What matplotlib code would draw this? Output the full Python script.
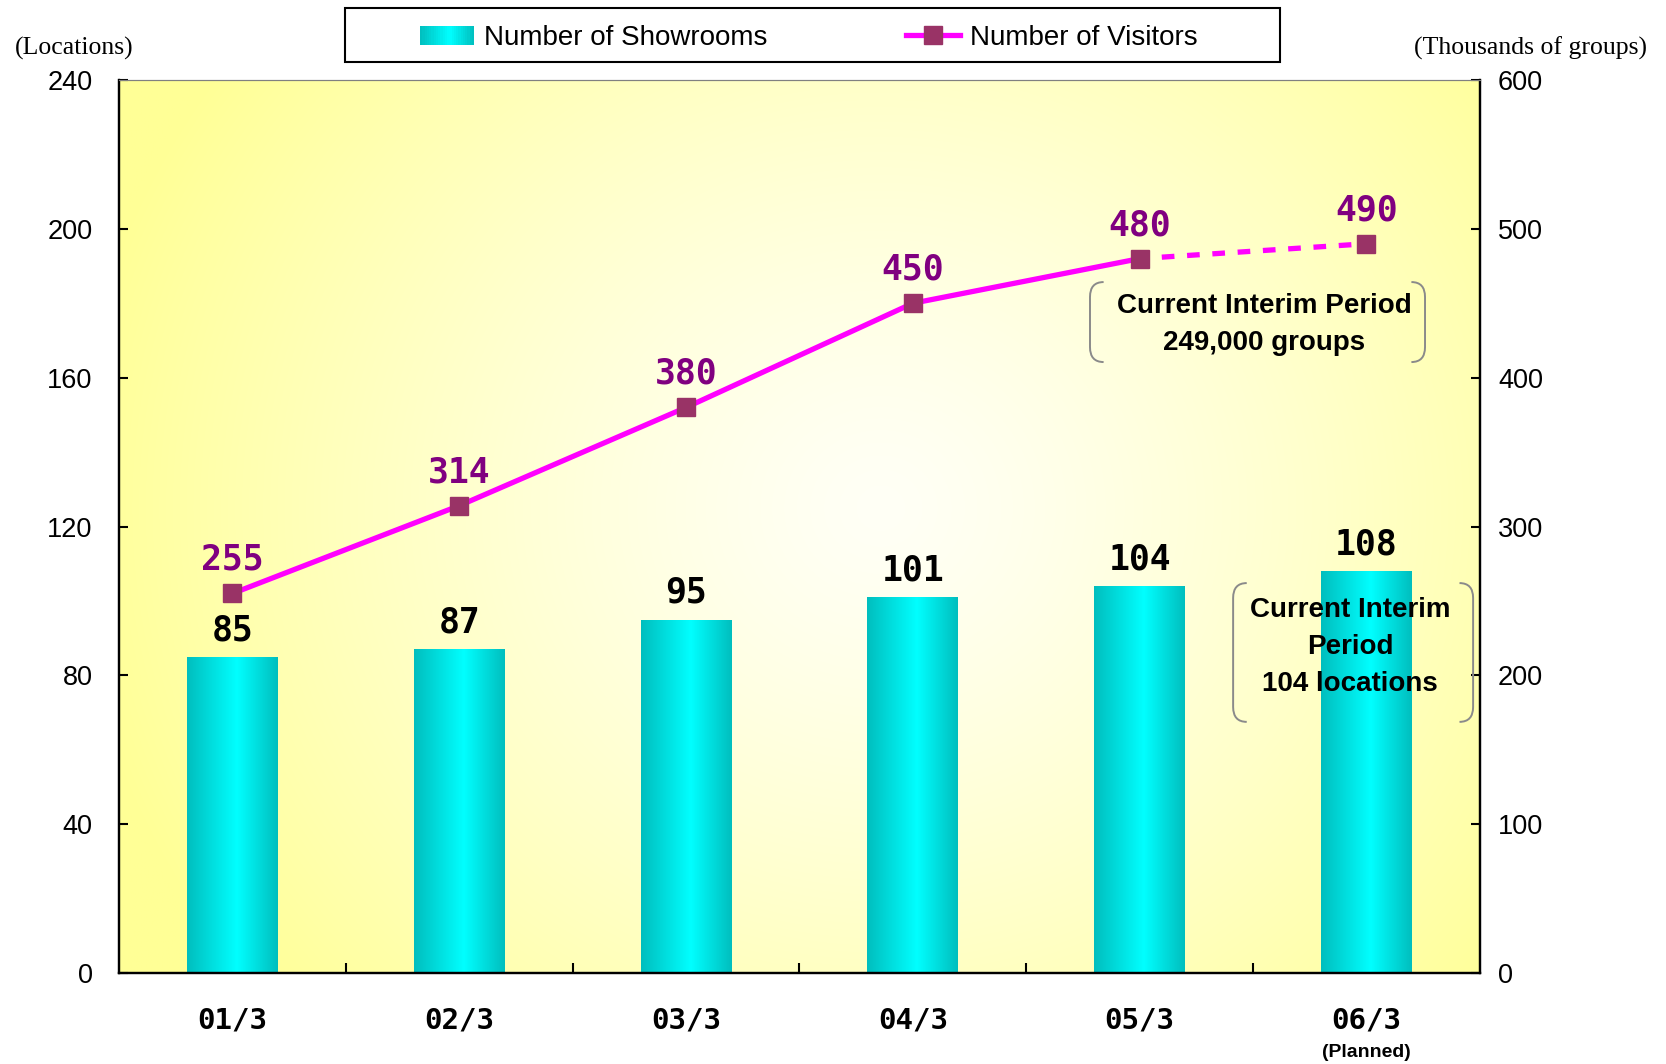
import numpy as np
import matplotlib
matplotlib.use('Agg')
import matplotlib.pyplot as plt
from matplotlib.colors import LinearSegmentedColormap
from matplotlib.patches import Rectangle, PathPatch
from matplotlib.path import Path
from matplotlib.legend_handler import HandlerBase
from matplotlib.lines import Line2D

plt.rcParams['font.family'] = 'Liberation Sans'

# data
periods = ['01/3', '02/3', '03/3', '04/3', '05/3', '06/3']
showrooms = [85, 87, 95, 101, 104, 108]
visitors = [255, 314, 380, 450, 480, 490]
left_ticks = [0, 40, 80, 120, 160, 200, 240]
right_ticks = [0, 100, 200, 300, 400, 500, 600]

bar_cmap = LinearSegmentedColormap.from_list(
    'teal', [(0.0, '#00BEBE'), (0.55, '#00FFFF'), (1.0, '#00BEBE')])
magenta = '#FF00FF'
marker_col = '#993366'
label_purple = '#800080'
mono = 'DejaVu Sans Mono'


class GradientHandler(HandlerBase):
    def create_artists(self, legend, orig_handle, xdescent, ydescent,
                       width, height, fontsize, trans):
        n = 24
        arts = []
        for i in range(n):
            r = Rectangle((-xdescent + width * i / n, -ydescent), width / n * 1.05, height,
                          facecolor=bar_cmap((i + 0.5) / n), edgecolor='none',
                          transform=trans)
            arts.append(r)
        return arts


def bracket(axis, x, y0, y1, rx, ry, side, trans):
    # rounded bracket, side=+1 opens right, -1 opens left
    verts = [(x + side * rx, y1), (x, y1), (x, y1 - ry),
             (x, y0 + ry), (x, y0), (x + side * rx, y0)]
    codes = [Path.MOVETO, Path.CURVE3, Path.CURVE3,
             Path.LINETO, Path.CURVE3, Path.CURVE3]
    axis.add_patch(PathPatch(Path(verts, codes), fill=False, edgecolor='#8a8a8a',
                             lw=1.4, transform=trans, zorder=6))


fig = plt.figure(figsize=(16.66, 10.64), dpi=100)
ax = fig.add_axes([0.0714, 0.0855, 0.8169, 0.8393])

# background gradient
gx, gy = np.meshgrid(np.linspace(0, 1, 400), np.linspace(0, 1, 300))
r = np.sqrt(((gx - 0.56) / 0.6) ** 2 + ((gy - 0.52) / 0.85) ** 2)
t = np.clip(r, 0, 1) ** 1.3
yellow = np.array([255, 255, 150]) / 255
white = np.array([255, 255, 246]) / 255
bg = white + (yellow - white) * t[..., None]
ax.imshow(bg, extent=[0, 1, 0, 1], transform=ax.transAxes, origin='lower',
          aspect='auto', zorder=0, interpolation='bilinear')

x = np.arange(len(periods))
bars = ax.bar(x, showrooms, width=0.4, color='none', edgecolor='none', zorder=2)
grad = np.linspace(0, 1, 256)[None, :]
for b in bars:
    bx, by = b.get_x(), b.get_y()
    im = ax.imshow(grad, extent=[bx, bx + b.get_width(), by, by + b.get_height()],
                   cmap=bar_cmap, aspect='auto', zorder=2, interpolation='bilinear')
    im.set_clip_path(b)

for xi, v in zip(x, showrooms):
    ax.annotate(str(v), (xi, v), xytext=(0, 12), textcoords='offset points',
                ha='center', va='baseline', fontsize=25, fontweight='bold',
                family=mono, color='black', zorder=4)

ax.set_xlim(-0.5, 5.5)
ax.set_ylim(0, 240)
ax.set_yticks(left_ticks)
ax.set_xticks(x)
ax.set_xticklabels(periods, fontsize=21, fontweight='bold', family=mono)
ax.set_xticks(np.arange(0.5, 5, 1), minor=True)
ax.tick_params(axis='x', which='major', length=0, pad=24)
ax.tick_params(axis='x', which='minor', direction='in', length=7, width=1.5)
ax.tick_params(axis='y', direction='in', length=6.5, width=1.5, labelsize=19.5, pad=19)

ax.annotate('(Planned)', xy=(5, 0), xycoords=('data', 'axes fraction'),
            xytext=(0, -57), textcoords='offset points', ha='center', va='center',
            fontsize=14, fontweight='bold')

# visitors on the right axis
ax2 = ax.twinx()
ax2.plot(x[:5], visitors[:5], color=magenta, lw=3.8, zorder=3)
ax2.plot(x[4:], visitors[4:], color=magenta, lw=3.8, ls=(0.6, (2.4, 2.4)), zorder=3)
ax2.plot(x, visitors, ls='none', marker='s', ms=13.5, mfc=marker_col, mec=marker_col, zorder=4)
for xi, v in zip(x, visitors):
    ax2.annotate(str(v), (xi, v), xytext=(0, 17), textcoords='offset points',
                 ha='center', va='baseline', fontsize=25, fontweight='bold',
                 family=mono, color=label_purple, zorder=5)
ax2.set_ylim(0, 600)
ax2.set_yticks(right_ticks)
ax2.tick_params(axis='y', direction='in', length=6.5, width=1.5, labelsize=19.5, pad=13)

for a in (ax, ax2):
    for s in ('left', 'right', 'bottom'):
        a.spines[s].set_linewidth(1.6)
        a.spines[s].set_color('black')
    a.spines['top'].set_linewidth(0.8)
    a.spines['top'].set_color('#808080')

# call-out notes
ax2.text(4.548, 174.2, 'Current Interim Period\n249,000 groups', transform=ax.transData,
         ha='center', va='center', fontsize=20, fontweight='bold', linespacing=1.55, zorder=6)
bracket(ax2, 3.781, 164.2, 185.7, 0.06, 4.0, 1, ax.transData)
bracket(ax2, 5.258, 164.2, 185.7, 0.06, 4.0, -1, ax.transData)

ax2.text(4.928, 87.5, 'Current Interim\nPeriod\n104 locations', transform=ax.transData,
         ha='center', va='center', fontsize=20, fontweight='bold', linespacing=1.55, zorder=6)
bracket(ax2, 4.412, 67.5, 104.8, 0.06, 4.0, 1, ax.transData)
bracket(ax2, 5.470, 67.5, 104.8, 0.06, 4.0, -1, ax.transData)

# axis unit labels
fig.text(74 / 1666, 1 - 48 / 1064, '(Locations)', ha='center', va='center',
         family='Liberation Serif', fontsize=18.5)
fig.text(1531 / 1666, 1 - 48 / 1064, '(Thousands of groups)', ha='center', va='center',
         family='Liberation Serif', fontsize=18.5)

# legend box
fig.add_artist(Rectangle((345 / 1666, 1 - 62 / 1064), 935 / 1666, 53.5 / 1064,
                         transform=fig.transFigure, facecolor='white',
                         edgecolor='black', lw=1.5))
bar_proxy = Rectangle((0, 0), 1, 1)
line_proxy = Line2D([], [], color=magenta, lw=3.8, marker='s', ms=13.5,
                    mfc=marker_col, mec=marker_col)
fig.legend([bar_proxy, line_proxy], ['Number of Showrooms', 'Number of Visitors'],
           handler_map={bar_proxy: GradientHandler()},
           loc='center left', bbox_to_anchor=(0.2521, 1 - 38 / 1064), ncol=2, frameon=False,
           fontsize=20, handlelength=1.95, handleheight=0.7, handletextpad=0.35,
           columnspacing=5.0, borderpad=0, borderaxespad=0)

fig.savefig('out.png', dpi=100)
